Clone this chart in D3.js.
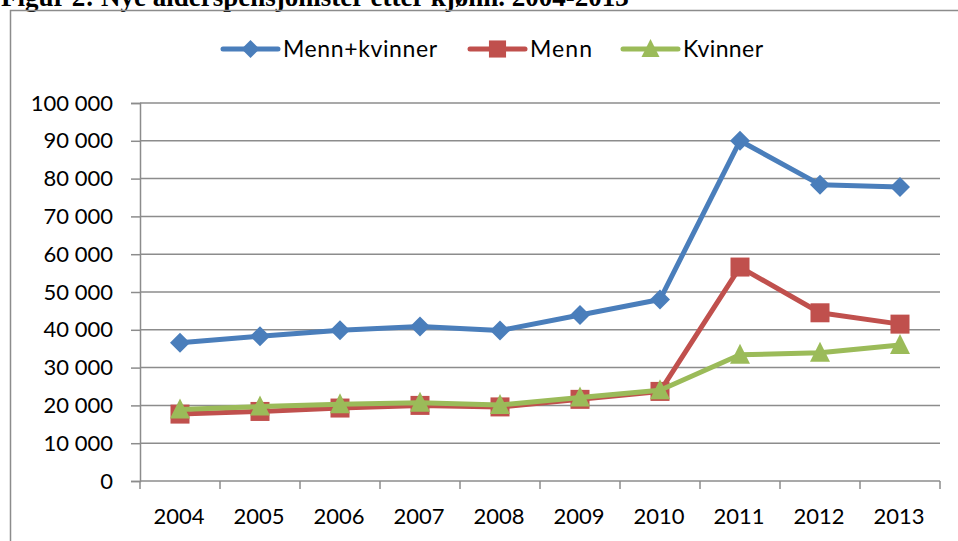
<!DOCTYPE html>
<html>
<head>
<meta charset="utf-8">
<script src="https://cdn.jsdelivr.net/npm/d3@7"></script>
<style>
  html, body { margin: 0; padding: 0; background: #fff; overflow: hidden; }
  svg { display: block; }
</style>
</head>
<body>
<svg id="chart" width="958" height="541"></svg>
<script>
const years = ['2004', '2005', '2006', '2007', '2008', '2009', '2010', '2011', '2012', '2013'];
const total = [36600, 38300, 39900, 40900, 39800, 43900, 48000, 90000, 78400, 77800];
const menn = [17700, 18400, 19300, 20000, 19600, 21600, 23700, 56600, 44500, 41500];
const kvinner = [18900, 19700, 20300, 20700, 20100, 22100, 24000, 33400, 33900, 36000];
const yTicks = [0, 10000, 20000, 30000, 40000, 50000, 60000, 70000, 80000, 90000, 100000];

const series = [
  { name: 'Menn+kvinner', values: total, color: '#4A7EBB', marker: 'diamond' },
  { name: 'Menn', values: menn, color: '#C0504D', marker: 'square' },
  { name: 'Kvinner', values: kvinner, color: '#9BBB59', marker: 'triangle' }
];

const svg = d3.select('#chart');
const gridColor = '#8c8c8c';
const font = 'Lato, "Open Sans", sans-serif';

// title, mostly cut off at the top
svg.append('text')
  .attr('x', 1)
  .attr('y', 6)
  .attr('font-family', '"Liberation Serif", "Times New Roman", serif')
  .attr('font-weight', 'bold')
  .attr('font-size', 27)
  .text('Figur 2: Nye alderspensjonister etter kjønn. 2004-2013');

// chart frame
svg.append('rect')
  .attr('x', 10.5)
  .attr('y', 10.5)
  .attr('width', 1000)
  .attr('height', 600)
  .attr('fill', 'none')
  .attr('stroke', gridColor)
  .attr('stroke-width', 1.5);

const x = d3.scaleBand().domain(years).range([140, 940]);
const y = d3.scaleLinear().domain([0, 100000]).range([481, 103]);

const nb = d3.formatLocale({ decimal: ',', thousands: ' ', grouping: [3], currency: ['', ' kr'] });
const fmt = nb.format(',d');

// gridlines
svg.append('g')
  .selectAll('line')
  .data(yTicks.slice(1))
  .join('line')
  .attr('x1', 140)
  .attr('x2', 940)
  .attr('y1', (d) => y(d))
  .attr('y2', (d) => y(d))
  .attr('stroke', gridColor)
  .attr('stroke-width', 1.5);

// y axis
const yAxis = svg.append('g')
  .attr('transform', 'translate(140,0)')
  .call(d3.axisLeft(y).tickValues(yTicks).tickFormat(fmt).tickSize(9).tickPadding(18));
yAxis.select('.domain').attr('stroke', gridColor).attr('stroke-width', 1.5);
yAxis.selectAll('.tick line').attr('stroke', gridColor).attr('stroke-width', 1.5);
yAxis.selectAll('.tick text').attr('font-size', 22).attr('fill', '#000').attr('font-family', font);

// x axis with ticks between categories
const xAxis = svg.append('g').attr('transform', 'translate(0,481)');
xAxis.append('line')
  .attr('x1', 140).attr('x2', 940)
  .attr('stroke', gridColor).attr('stroke-width', 1.5);
xAxis.selectAll('.xt')
  .data(years.concat(['end']))
  .join('line')
  .attr('class', 'xt')
  .attr('x1', (d, i) => 140 + i * x.step())
  .attr('x2', (d, i) => 140 + i * x.step())
  .attr('y1', 0).attr('y2', 8)
  .attr('stroke', gridColor).attr('stroke-width', 1.5);
xAxis.selectAll('.xl')
  .data(years)
  .join('text')
  .attr('class', 'xl')
  .attr('x', (d) => x(d) + x.bandwidth() / 2 - 1)
  .attr('y', 43)
  .attr('text-anchor', 'middle')
  .attr('font-family', font)
  .attr('font-size', 22)
  .text((d) => d);

const cx = (i) => x(years[i]) + x.bandwidth() / 2;

function drawMarker(sel, type, color, k = 1) {
  if (type === 'diamond') {
    sel.append('path').attr('d', `M0,${-10 * k}L${10 * k},0L0,${10 * k}L${-10 * k},0Z`).attr('fill', color);
  } else if (type === 'square') {
    sel.append('rect').attr('x', -9.5 * k).attr('y', -9.5 * k).attr('width', 19 * k).attr('height', 19 * k).attr('fill', color);
  } else {
    sel.append('path').attr('d', `M0,${-11 * k}L${10 * k},${9 * k}L${-10 * k},${9 * k}Z`).attr('fill', color);
  }
}

const line = d3.line().x((d, i) => cx(i)).y((d) => y(d));

series.forEach((s) => {
  const g = svg.append('g');
  g.append('path')
    .datum(s.values)
    .attr('d', line)
    .attr('fill', 'none')
    .attr('stroke', s.color)
    .attr('stroke-width', 5)
    .attr('stroke-linejoin', 'round')
    .attr('stroke-linecap', 'round');
  g.selectAll('.m')
    .data(s.values)
    .join('g')
    .attr('class', 'm')
    .attr('transform', (d, i) => `translate(${cx(i)},${y(d)})`)
    .each(function () { drawMarker(d3.select(this), s.marker, s.color); });
});

// legend
const legendItems = [
  { s: series[0], x0: 223, w: 154 },
  { s: series[1], x0: 470, w: 62 },
  { s: series[2], x0: 623, w: 80 }
];
legendItems.forEach(({ s, x0, w }) => {
  const g = svg.append('g').attr('transform', `translate(${x0},49)`);
  g.append('line')
    .attr('x1', 0).attr('x2', 55)
    .attr('stroke', s.color).attr('stroke-width', 5).attr('stroke-linecap', 'round');
  const m = g.append('g').attr('transform', 'translate(27.5,0)');
  drawMarker(m, s.marker, s.color, 0.9);
  g.append('text')
    .attr('x', 60)
    .attr('y', 8)
    .attr('font-family', font)
    .attr('font-size', 23)
    .attr('textLength', w)
    .attr('lengthAdjust', 'spacing')
    .text(s.name);
});
</script>
</body>
</html>
